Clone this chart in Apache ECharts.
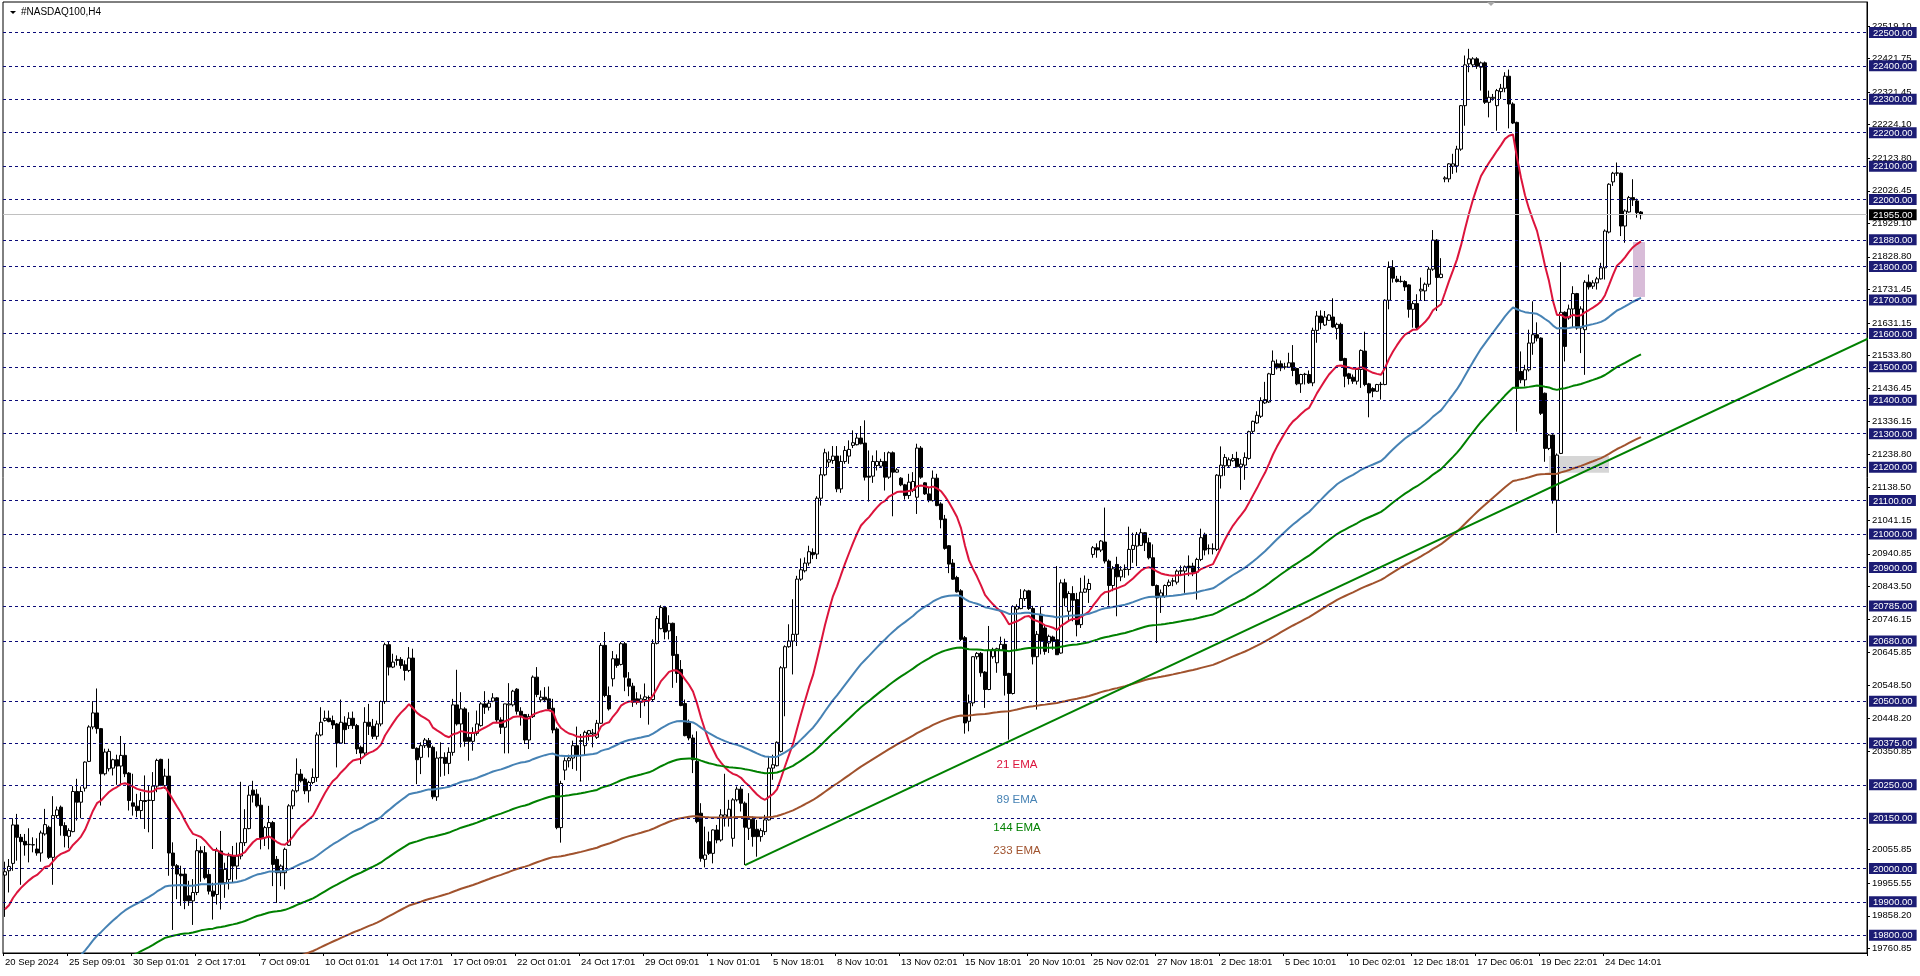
<!DOCTYPE html>
<html><head><meta charset="utf-8">
<script src="https://cdn.jsdelivr.net/npm/echarts/dist/echarts.min.js"></script>
<style>html,body{margin:0;padding:0;background:#fff;}#c{width:1920px;height:976px;}</style>
</head><body><div id="c"></div>
<script>
const symbolTitle = '#NASDAQ100,H4';
const xLabels = ['20 Sep 2024','25 Sep 09:01','30 Sep 01:01','2 Oct 17:01','7 Oct 09:01','10 Oct 01:01','14 Oct 17:01','17 Oct 09:01','22 Oct 01:01','24 Oct 17:01','29 Oct 09:01','1 Nov 01:01','5 Nov 18:01','8 Nov 10:01','13 Nov 02:01','15 Nov 18:01','20 Nov 10:01','25 Nov 02:01','27 Nov 18:01','2 Dec 18:01','5 Dec 10:01','10 Dec 02:01','12 Dec 18:01','17 Dec 06:01','19 Dec 22:01','24 Dec 14:01'];
const labelEvery = 16;
const totalSlots = 466;
// [open, close, low, high]
const ohlc = [
[19980,19990,19855,20020],[19993,20006,19928,20028],[20015,20130,19993,20150],[20130,20093,20023,20163],[20093,20080,19951,20103],
[20081,20070,20038,20103],[20071,20072,20018,20120],[20071,20070,20048,20093],[20058,20046,20038,20090],[20046,20106,20020,20113],
[20103,20131,20098,20178],[20123,20033,20028,20128],[20033,20158,19951,20216],[20158,20175,20150,20185],[20183,20128,20098,20188],
[20128,20098,20063,20138],[20096,20113,20060,20120],[20110,20230,20108,20246],[20230,20198,20143,20268],[20198,20230,20150,20245],
[20240,20318,20230,20320],[20320,20423,20318,20428],[20423,20465,20416,20500],[20465,20418,20403,20538],[20418,20283,20188,20420],
[20283,20348,20278,20358],[20298,20350,20290,20358],[20300,20325,20278,20328],[20325,20306,20250,20340],[20306,20338,20248,20396],
[20338,20283,20273,20375],[20285,20203,20173,20288],[20196,20186,20158,20283],[20186,20173,20153,20223],[20173,20203,20148,20228],
[20203,20200,20118,20278],[20203,20204,20108,20248],[20203,20246,20058,20288],[20246,20323,20228,20328],[20326,20248,20246,20328],
[20248,20276,20238,20298],[20276,20046,19978,20328],[20046,20008,19816,20078],[20008,19983,19908,20013],[19983,19978,19888,20008],
[19983,19903,19878,19998],[19918,19903,19888,19963],[19903,19928,19831,19968],[19928,20053,19920,20088],[20053,20047,19960,20066],
[20047,19972,19967,20067],[19982,19932,19922,19997],[19932,19917,19847,19957],[19922,20052,19892,20062],[20052,19957,19877,20112],
[19957,19997,19912,20017],[19967,20037,19937,20047],[20037,20007,19957,20067],[20007,20037,19967,20077],[20037,20077,20027,20259],
[20077,20119,20067,20177],[20119,20219,20117,20247],[20234,20219,20197,20262],[20222,20187,20182,20237],[20189,20092,20057,20212],
[20092,20122,20067,20127],[20122,20137,20057,20187],[20137,20012,19947,20142],[20027,19987,19897,20037],[19987,20007,19947,20012],
[19987,20057,19937,20062],[20069,20187,20067,20192],[20187,20232,20177,20237],[20232,20282,20227,20329],[20282,20262,20257,20297],
[20267,20232,20222,20272],[20232,20257,20197,20262],[20257,20272,20252,20299],[20272,20399,20259,20407],[20399,20437,20395,20482],
[20442,20449,20439,20472],[20449,20439,20437,20472],[20442,20429,20417,20457],[20432,20375,20302,20435],[20375,20437,20372,20505],
[20435,20415,20372,20455],[20427,20449,20417,20467],[20449,20427,20417,20469],[20427,20357,20342,20432],[20362,20345,20312,20367],
[20345,20437,20337,20482],[20437,20425,20399,20492],[20425,20395,20387,20447],[20395,20432,20385,20442],[20432,20499,20425,20502],
[20499,20669,20492,20675],[20669,20602,20577,20677],[20602,20617,20599,20642],[20622,20625,20607,20637],[20625,20607,20597,20632],
[20609,20592,20562,20622],[20592,20629,20587,20662],[20629,20359,20357,20657],[20359,20325,20252,20362],[20332,20367,20282,20377],
[20367,20384,20360,20390],[20382,20362,20332,20390],[20362,20214,20207,20367],[20214,20330,20202,20350],[20332,20330,20274,20377],
[20332,20314,20277,20347],[20314,20347,20282,20362],[20347,20489,20337,20507],[20489,20432,20427,20594],[20432,20477,20362,20527],
[20477,20380,20364,20482],[20392,20380,20322,20467],[20380,20404,20352,20422],[20404,20432,20397,20472],[20427,20492,20424,20497],
[20492,20482,20462,20530],[20482,20494,20472,20504],[20500,20510,20497,20524],[20510,20444,20437,20512],[20444,20422,20402,20452],
[20422,20492,20344,20492],[20489,20492,20344,20554],[20489,20530,20484,20534],[20536,20470,20460,20539],[20470,20457,20427,20482],
[20460,20384,20372,20462],[20384,20454,20357,20462],[20454,20572,20450,20577],[20572,20520,20512,20602],[20504,20512,20497,20532],
[20512,20504,20497,20542],[20507,20477,20472,20544],[20479,20414,20404,20507],[20417,20122,20117,20422],[20122,20254,20077,20262],
[20294,20322,20264,20332],[20322,20330,20302,20340],[20330,20367,20297,20382],[20367,20337,20292,20424],[20382,20380,20260,20402],
[20367,20407,20337,20412],[20402,20412,20382,20414],[20402,20405,20362,20417],[20392,20434,20387,20444],[20434,20667,20432,20674],
[20667,20517,20512,20707],[20517,20477,20472,20544],[20567,20627,20544,20650],[20627,20607,20600,20640],[20610,20672,20607,20677],
[20672,20572,20530,20677],[20567,20545,20515,20587],[20545,20497,20483,20555],[20507,20497,20490,20527],[20497,20507,20450,20520],
[20505,20513,20485,20553],[20510,20511,20430,20517],[20505,20673,20500,20685],[20673,20747,20670,20755],[20717,20780,20715,20787],
[20780,20707,20685,20785],[20710,20733,20685,20757],[20733,20637,20540,20735],[20640,20583,20555,20695],[20595,20487,20485,20623],
[20493,20397,20395,20505],[20435,20390,20383,20445],[20390,20325,20285,20400],[20320,20140,20135,20410],[20165,20030,20020,20195],
[20027,20040,20003,20125],[20080,20045,20040,20110],[20045,20115,20015,20117],[20115,20085,20075,20130],[20085,20160,20080,20177],
[20153,20160,20125,20283],[20153,20177,20125,20205],[20090,20205,20065,20210],[20205,20237,20200,20245],[20237,20195,20170,20245],
[20195,20123,20010,20200],[20120,20147,20085,20225],[20147,20095,20065,20155],[20117,20095,20035,20145],[20095,20113,20080,20120],
[20110,20145,20100,20160],[20145,20300,20143,20335],[20300,20310,20265,20340],[20307,20377,20305,20380],[20350,20600,20347,20605],
[20600,20663,20455,20667],[20663,20680,20660,20730],[20680,20700,20580,20805],[20700,20865,20665,20875],[20865,20893,20860,20927],
[20890,20913,20885,20930],[20913,20947,20905,20965],[20945,20938,20925,20957],[20940,21107,20925,21113],[21107,21177,21085,21200],
[21177,21243,21173,21255],[21215,21222,21200,21247],[21220,21233,21210,21263],[21233,21135,21125,21263],[21135,21217,21123,21235],
[21217,21250,21210,21263],[21233,21253,21210,21280],[21265,21273,21257,21310],[21267,21287,21265,21300],[21287,21270,21268,21323],
[21272,21170,21160,21340],[21173,21170,21097,21250],[21173,21217,21153,21235],[21205,21217,21190,21250],[21203,21217,21200,21225],
[21217,21170,21130,21245],[21170,21243,21165,21247],[21243,21185,21053,21247],[21185,21192,21183,21197],[21167,21147,21143,21170],
[21147,21115,21103,21150],[21115,21155,21105,21180],[21130,21157,21125,21185],[21110,21257,21060,21270],[21257,21170,21165,21263],
[21153,21120,21117,21155],[21120,21100,21095,21140],[21100,21167,21097,21190],[21167,21085,21083,21180],[21090,21043,21017,21095],
[21045,20957,20953,21057],[20965,20910,20883,20967],[20913,20865,20863,20925],[20870,20827,20825,20875],[20830,20685,20680,20835],
[20690,20435,20403,20695],[20440,20495,20410,20520],[20495,20633,20485,20635],[20633,20643,20625,20647],[20643,20585,20573,20647],
[20587,20535,20480,20590],[20535,20653,20533,20725],[20633,20655,20627,20660],[20615,20657,20585,20660],[20653,20670,20653,20693],
[20670,20577,20517,20687],[20583,20523,20385,20585],[20523,20783,20520,20787],[20775,20783,20650,20790],[20777,20807,20775,20835],
[20807,20830,20800,20835],[20830,20777,20773,20833],[20777,20633,20610,20785],[20633,20700,20475,20710],[20760,20680,20640,20783],
[20719,20649,20639,20729],[20674,20694,20644,20699],[20692,20679,20654,20696],[20684,20639,20639,20904],[20644,20854,20642,20864],
[20854,20809,20784,20866],[20769,20822,20739,20829],[20822,20802,20739,20844],[20804,20729,20694,20824],[20729,20826,20719,20869],
[20826,20836,20824,20876],[20834,20852,20794,20866],[20939,20959,20929,20964],[20959,20952,20929,20972],[20952,20979,20946,20982],
[20976,20919,20912,21079],[20919,20846,20786,20924],[20846,20896,20829,20904],[20909,20872,20754,20932],[20872,20892,20859,20904],
[20894,20895,20869,20909],[20894,20954,20876,21022],[20954,20966,20914,21004],[20964,20999,20904,21006],[20966,21004,20964,21016],
[21004,20974,20949,21006],[20974,20929,20924,20989],[20929,20846,20844,20969],[20846,20809,20674,20849],[20814,20824,20764,20834],
[20814,20846,20809,20849],[20846,20856,20842,20864],[20859,20860,20844,20869],[20856,20889,20849,20894],[20889,20890,20874,20906],
[20889,20902,20824,20906],[20904,20899,20874,20936],[20904,20886,20874,20914],[20886,20924,20804,20929],[20924,20989,20919,21016],
[20999,20952,20936,21004],[20956,20957,20939,20969],[20956,20955,20939,20972],[20954,21176,20949,21179],[21174,21206,21136,21262],
[21204,21229,21174,21239],[21204,21222,21199,21229],[21219,21226,21216,21239],[21226,21201,21199,21246],[21201,21209,21132,21224],
[21206,21229,21162,21244],[21226,21306,21222,21309],[21307,21337,21302,21339],[21332,21355,21329,21367],[21352,21399,21347,21409],
[21392,21402,21389,21455],[21395,21479,21392,21482],[21477,21517,21477,21549],[21509,21497,21492,21522],[21509,21497,21487,21519],
[21499,21500,21492,21512],[21499,21512,21497,21542],[21512,21489,21472,21565],[21495,21449,21445,21497],[21449,21477,21422,21479],
[21477,21478,21447,21482],[21477,21452,21449,21489],[21452,21609,21442,21617],[21609,21652,21572,21667],[21652,21632,21612,21669],
[21625,21649,21622,21667],[21639,21655,21637,21657],[21649,21619,21617,21705],[21615,21627,21582,21632],[21627,21519,21517,21632],
[21525,21472,21439,21527],[21479,21465,21447,21482],[21469,21457,21449,21477],[21457,21492,21447,21497],[21492,21549,21437,21552],
[21547,21447,21442,21605],[21449,21422,21349,21452],[21435,21427,21409,21439],[21427,21447,21425,21449],[21447,21448,21402,21455],
[21447,21699,21445,21702],[21699,21797,21672,21815],[21797,21765,21752,21819],[21762,21755,21752,21772],[21755,21756,21752,21772],
[21755,21739,21727,21759],[21745,21672,21647,21747],[21672,21689,21617,21697],[21689,21617,21612,21717],[21727,21732,21699,21767],
[21727,21747,21697,21752],[21747,21792,21739,21799],[21792,21879,21787,21909],[21879,21767,21667,21882],[21767,21777,21765,21825],
[22062,22065,22052,22070],[22062,22107,22052,22109],[22100,22107,22077,22137],[22101,22151,22081,22161],[22151,22281,22146,22283],
[22281,22403,22221,22431],[22406,22421,22381,22451],[22403,22421,22396,22426],[22421,22399,22391,22426],[22396,22409,22326,22413],
[22409,22291,22286,22413],[22291,22306,22246,22326],[22303,22306,22296,22316],[22281,22326,22206,22331],[22323,22333,22301,22346],
[22333,22369,22321,22381],[22369,22286,22213,22389],[22286,22229,22226,22291],[22231,21436,21306,22233],[21486,21461,21451,21546],
[21461,21491,21441,21506],[21491,21571,21486,21611],[21571,21596,21536,21696],[21596,21586,21576,21633],[21586,21361,21356,21588],
[21421,21256,21216,21423],[21256,21296,21251,21299],[21296,21101,21091,21298],[21101,21236,21003,21241],[21241,21663,21239,21813],
[21663,21561,21516,21666],[21646,21673,21641,21686],[21673,21719,21616,21741],[21719,21616,21611,21721],[21616,21673,21541,21681],
[21611,21753,21476,21759],[21753,21739,21731,21776],[21741,21751,21733,21759],[21751,21763,21731,21769],[21763,21796,21761,21811],
[21796,21906,21761,21911],[21903,22046,21899,22049],[22053,22079,22041,22083],[22079,22080,22071,22111],[22079,21921,21891,22081],
[21921,21966,21871,21971],[21963,22006,21961,22011],[22006,21999,21981,22061],[21996,21961,21946,22003],[21963,21955,21941,21966]
];
const emaPeriods = [21, 89, 144, 233];
const emaSeeds = [19878, 19540, 19476, 19391];
const emaColors = ['#dc143c', '#4682b4', '#008000', '#a0522d'];
const emaNames = ['21 EMA', '89 EMA', '144 EMA', '233 EMA'];
const emaLabelAt = [[253, 20309], [253, 20205], [253, 20120], [253, 20053]];
const hLevels = [22500,22400,22300,22200,22100,22000,21880,21800,21700,21600,21500,21400,21300,21200,21100,21000,20900,20785,20680,20500,20375,20250,20150,20000,19900,19800];
const currentPrice = 21955;
const priceTicks = [22519.10,22421.75,22321.45,22224.10,22123.80,22026.45,21929.10,21828.80,21731.45,21631.15,21533.80,21436.45,21336.15,21238.80,21138.50,21041.15,20940.85,20843.50,20746.15,20645.85,20548.50,20448.20,20350.85,20055.85,19955.55,19858.20,19760.85];
const trendLine = [[185, 20010], [465.5, 21586]];
const boxPink = [[407, 21873], [410, 21709]];
const boxGray = [[386, 21233], [401, 21183]];
const yMin = 19747, yMax = 22591;

const cats = Array.from({length: totalSlots}, (_, i) => String(i));
function ema(period, seed) {
  const a = 2 / (period + 1); const out = []; let e = seed;
  for (let i = 0; i < ohlc.length; i++) { if (i > 0) e = a * ohlc[i][1] + (1 - a) * e; out.push(+e.toFixed(2)); }
  return out;
}
const FONT = '"Liberation Sans", Arial, sans-serif';
const showLab = (i) => i % labelEvery === 0 && (i / labelEvery) < xLabels.length;

const series = [];
series.push({
  type: 'line', data: [], z: 1, silent: true,
  markArea: { silent: true, data: [
    [{coord: boxGray[0], itemStyle: {color: '#d6d6d6'}}, {coord: boxGray[1]}],
    [{coord: boxPink[0], itemStyle: {color: '#d8bcd8'}}, {coord: boxPink[1]}]
  ]},
  markLine: { silent: true, symbol: 'none', label: {show: false}, animation: false,
    data: hLevels.map(v => ({yAxis: v, lineStyle: {color: '#0a0a78', type: [3, 3], width: 1}}))
      .concat([{yAxis: currentPrice, lineStyle: {color: '#c0c0c0', type: 'solid', width: 1}}]) }
});
series.push({
  type: 'candlestick', data: ohlc, barWidth: 3, z: 3,
  itemStyle: {color: '#ffffff', color0: '#000000', borderColor: '#000000', borderColor0: '#000000', borderColorDoji: '#000000', borderWidth: 1}
});
emaPeriods.forEach((p, k) => {
  series.push({
    type: 'line', data: ema(p, emaSeeds[k]), symbol: 'none', z: 4, silent: true,
    lineStyle: {color: emaColors[k], width: 2},
    markPoint: { symbol: 'circle', symbolSize: 1, itemStyle: {color: 'rgba(0,0,0,0)'},
      label: {show: true, position: 'inside', formatter: '{b}', color: emaColors[k], fontSize: 11.5, fontFamily: FONT},
      data: [{name: emaNames[k], coord: emaLabelAt[k]}] }
  });
});
series.push({ type: 'line', data: trendLine, symbol: 'none', z: 4, silent: true, lineStyle: {color: '#008000', width: 2} });

const chart = echarts.init(document.getElementById('c'), null, {renderer: 'canvas'});
chart.setOption({
  animation: false,
  backgroundColor: '#ffffff',
  grid: {left: 3, right: 53, top: 2, bottom: 23, show: true, borderColor: '#000', borderWidth: 1, backgroundColor: '#fff'},
  xAxis: {
    type: 'category', data: cats, boundaryGap: true,
    axisLine: {show: true, lineStyle: {color: '#000', width: 1}},
    axisTick: {show: true, length: 3, interval: (i) => showLab(i), lineStyle: {color: '#000'}},
    axisLabel: {interval: (i) => showLab(i), formatter: (v, i) => xLabels[i / labelEvery] || '', align: 'left', color: '#000', fontSize: 9.5, fontFamily: FONT, margin: 4},
    splitLine: {show: false}
  },
  yAxis: [
    { type: 'value', min: yMin, max: yMax, position: 'right', scale: true,
      axisLine: {show: true, lineStyle: {color: '#000'}},
      axisTick: {show: true, length: 3, customValues: priceTicks, lineStyle: {color: '#000'}},
      axisLabel: {customValues: priceTicks, formatter: (v) => v.toFixed(2), color: '#000', fontSize: 9.5, fontFamily: FONT, margin: 5},
      splitLine: {show: false} },
    { type: 'value', min: yMin, max: yMax, position: 'right', scale: true,
      axisLine: {show: false}, axisTick: {show: false},
      axisLabel: {customValues: hLevels.concat([currentPrice]), margin: 2,
        formatter: (v) => (v === currentPrice ? '{cur|' : '{box|') + v.toFixed(2) + '}',
        rich: {
          box: {backgroundColor: '#1c1c74', color: '#fff', fontSize: 9.5, fontFamily: FONT, padding: [1, 4, 0, 4], lineHeight: 10},
          cur: {backgroundColor: '#000', color: '#fff', fontSize: 9.5, fontFamily: FONT, padding: [1, 4, 0, 4], lineHeight: 10}
        }},
      splitLine: {show: false} }
  ],
  graphic: [
    {type: 'polygon', shape: {points: [[10, 11], [16, 11], [13, 14]]}, style: {fill: '#000'}},
    {type: 'text', left: 21, top: 7, style: {text: symbolTitle, fontSize: 10, fontFamily: FONT, fill: '#000'}},
    {type: 'polygon', shape: {points: [[1487, 2], [1495, 2], [1491, 6]]}, style: {fill: '#a8a8a8'}}
  ],
  series: series
});
</script></body></html>
